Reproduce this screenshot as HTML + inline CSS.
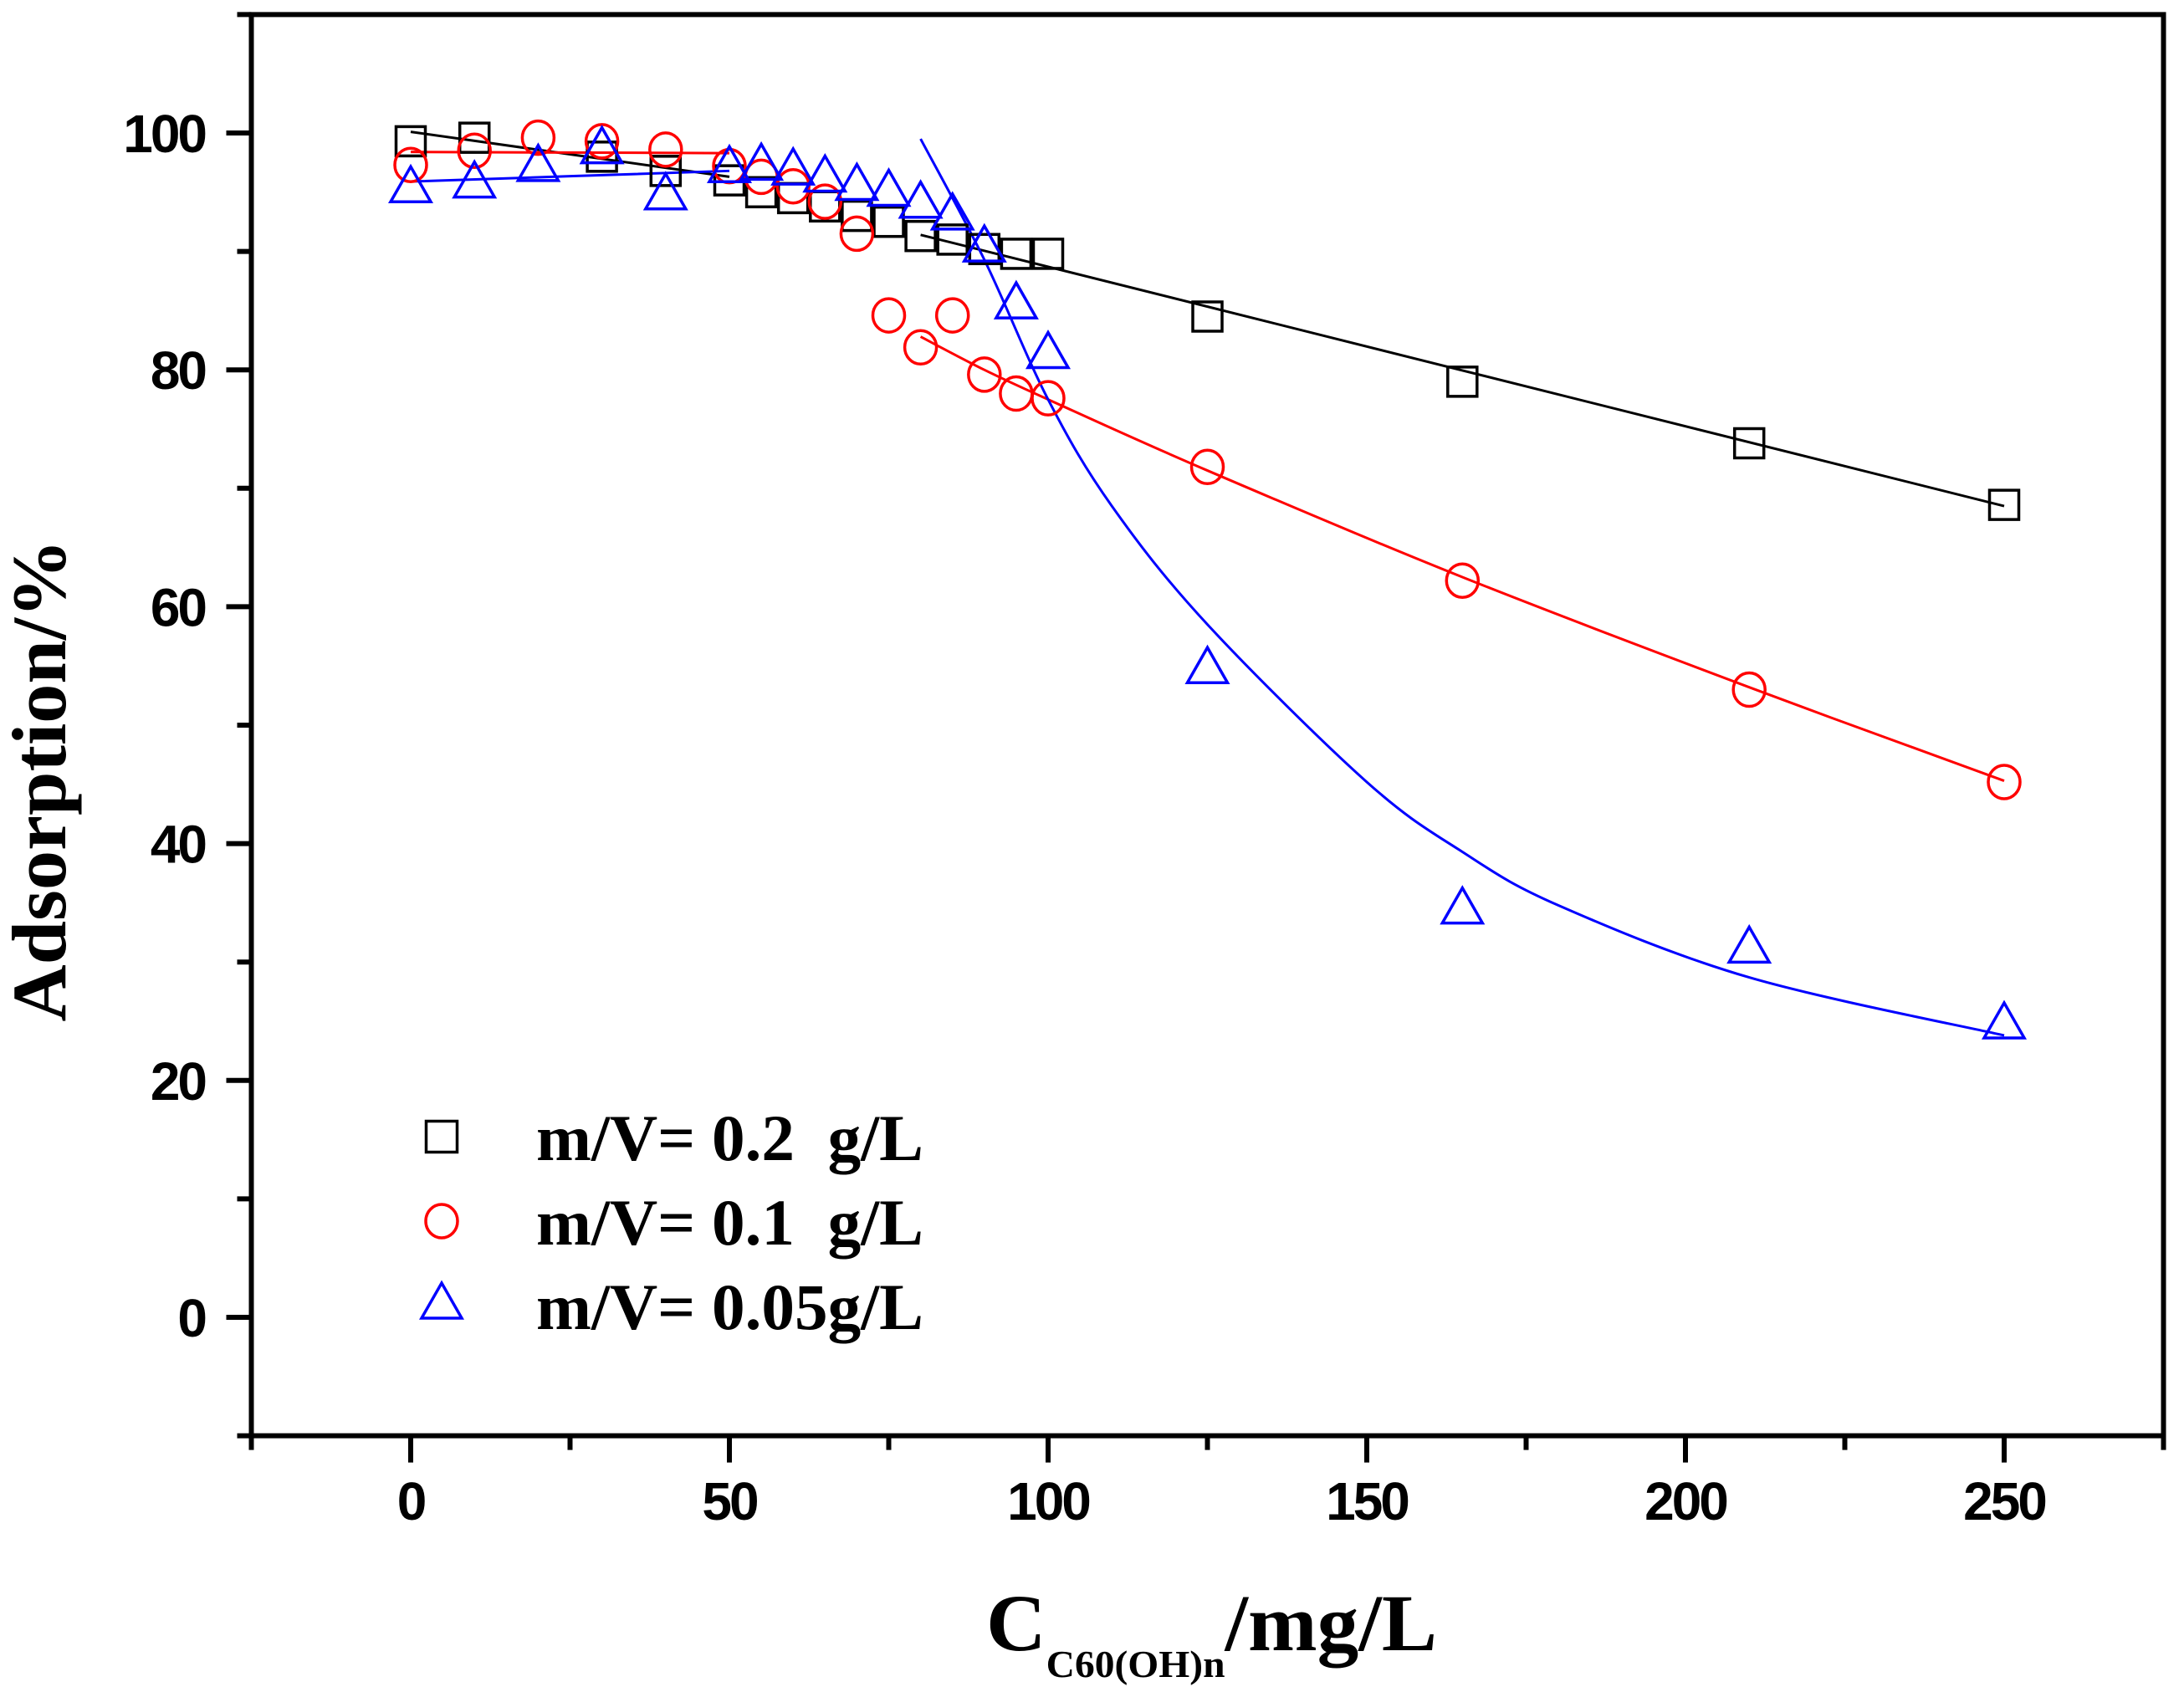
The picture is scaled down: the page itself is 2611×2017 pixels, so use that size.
<!DOCTYPE html>
<html><head><meta charset="utf-8"><style>
html,body{margin:0;padding:0;background:#fff;}
svg{display:block;}
.tick{font-family:"Liberation Sans",Arial,sans-serif;font-weight:bold;font-size:64px;letter-spacing:-3px;}
.tnr{font-family:"Liberation Serif","Times New Roman",serif;font-weight:bold;}
</style></head><body>
<svg id="chart" width="2611" height="2017" viewBox="0 0 2611 2017" xmlns="http://www.w3.org/2000/svg">
<rect width="2611" height="2017" fill="#fff"/>
<g id="marks"></g>
<g id="axes"></g>
<text class="tnr" font-size="92" transform="translate(78,933) rotate(-90)" text-anchor="middle" textLength="577" lengthAdjust="spacingAndGlyphs">Adsorption/%</text>
<text class="tnr" x="1179" y="1973" font-size="96" textLength="539" lengthAdjust="spacingAndGlyphs">C<tspan font-size="46" dy="32">C60(OH)n</tspan><tspan dy="-32">/mg/L</tspan></text>
<g id="legend"></g>
</svg>
<script>
const xTicks=[0,50,100,150,200,250];
const yTicks=[0,20,40,60,80,100];
const blackX=[0,10,30,40,50,55,60,65,70,75,80,85,90,95,100,125,165,210,250];
const blackY=[99.3,99.6,98,96.8,96,95,94.5,93.8,93,92.5,91.3,91,90.2,89.8,89.8,84.5,79,73.8,68.6];
const redX=[0,10,20,30,40,50,55,60,65,70,75,80,85,90,95,100,125,165,210,250];
const redY=[97.3,98.5,99.6,99.3,98.6,97.2,96.3,95.5,94.2,91.5,84.6,81.9,84.6,79.6,78,77.6,71.8,62.2,53,45.2];
const blueX=[0,10,20,30,40,50,55,60,65,70,75,80,85,90,95,100,125,165,210,250];
const blueY=[95.6,96,97.4,98.9,95,97.3,97.5,97.1,96.5,95.8,95.3,94.3,93.3,90.6,85.8,81.6,55,34.7,31.4,25];
const blackFit1X=[0,50], blackFit1Y=[100.1,96.3];
const blackFit2X=[80,250], blackFit2Y=[91.4,68.5];
const redFit1X=[0,50], redFit1Y=[98.4,98.3];
const redFit2X=[80,90,100,125,165,210,250], redFit2Y=[82.8,80,77.5,71.5,62.5,53.2,45.3];
const blueFit1X=[0,50], blueFit1Y=[95.9,96.8];
const blueFit2X=[80,90,100,110,125,150,165,180,210,250];
const blueFit2Y=[99.5,89.3,77.5,68.5,58.5,45.2,39.3,34.8,28.7,23.8];
const legendLabels=["m/V= 0.2  g/L","m/V= 0.1  g/L","m/V= 0.05g/L"];

const NS="http://www.w3.org/2000/svg";
const X=v=>491+v*7.62;
const Y=v=>1575-v*14.16;
function mk(tag,attrs,parent){const e=document.createElementNS(NS,tag);for(const k in attrs)e.setAttribute(k,attrs[k]);parent.appendChild(e);return e;}
const marks=document.getElementById('marks'),axes=document.getElementById('axes'),legend=document.getElementById('legend');

function fit(xs,ys,color,name){
  const P=xs.map((x,i)=>[X(x),Y(ys[i])]);
  let d='M'+P[0][0]+','+P[0][1];
  for(let i=0;i<P.length-1;i++){
    const p0=P[Math.max(i-1,0)],p1=P[i],p2=P[i+1],p3=P[Math.min(i+2,P.length-1)];
    const c1=[p1[0]+(p2[0]-p0[0])/6,p1[1]+(p2[1]-p0[1])/6];
    const c2=[p2[0]-(p3[0]-p1[0])/6,p2[1]-(p3[1]-p1[1])/6];
    d+=` C${c1[0]},${c1[1]} ${c2[0]},${c2[1]} ${p2[0]},${p2[1]}`;
  }
  const p=mk('path',{d:d,fill:'none',stroke:color,'stroke-width':3},marks);
  
  
}
function sq(cx,cy,s,parent){return mk('rect',{x:cx-s/2,y:cy-s/2,width:s,height:s,fill:'none',stroke:'#000','stroke-width':3.5},parent);}
function circ(cx,cy,parent){return mk('ellipse',{cx:cx,cy:cy,rx:19,ry:20,fill:'none',stroke:'#f00','stroke-width':3.5},parent);}
function tri(cx,cy,parent){return mk('polygon',{points:`${cx-24},${cy+20} ${cx+24},${cy+20} ${cx},${cy-22}`,fill:'none',stroke:'#00f','stroke-width':3.5},parent);}

fit(blackFit1X,blackFit1Y,'#000','fit-line-0.2-low');
fit(blackFit2X,blackFit2Y,'#000','fit-line-0.2-high');
fit(redFit1X,redFit1Y,'#f00','fit-line-0.1-low');
fit(redFit2X,redFit2Y,'#f00','fit-line-0.1-high');
fit(blueFit1X,blueFit1Y,'#00f','fit-line-0.05-low');
fit(blueFit2X,blueFit2Y,'#00f','fit-line-0.05-high');

blackX.forEach((x,i)=>{const e=sq(X(x),Y(blackY[i]),35,marks);

});
redX.forEach((x,i)=>{const e=circ(X(x),Y(redY[i]),marks);

});
blueX.forEach((x,i)=>{const e=tri(X(x),Y(blueY[i]),marks);

});

const fr=mk('rect',{x:X(-25),y:Y(110),width:X(275)-X(-25),height:Y(-10)-Y(110),fill:'none',stroke:'#000','stroke-width':6},axes);


for(let v=-25;v<=275;v+=25){
  const major=v%50===0;
  const t=mk('line',{x1:X(v),x2:X(v),y1:Y(-10),y2:Y(-10)+(major?32:17),stroke:'#000','stroke-width':6},axes);
  
  
}
xTicks.forEach(v=>{const t=mk('text',{x:X(v),y:1817,'text-anchor':'middle',class:'tick'},axes);t.textContent=v;

});
for(let v=-10;v<=110;v+=10){
  const major=v%20===0;
  const t=mk('line',{x1:X(-25),x2:X(-25)-(major?30:17),y1:Y(v),y2:Y(v),stroke:'#000','stroke-width':6},axes);
  
  
}
yTicks.forEach(v=>{const t=mk('text',{x:245,y:Y(v)+23,'text-anchor':'end',class:'tick'},axes);t.textContent=v;

});
const ly=[1359,1460,1556], lb=[1387,1488,1589];
legendLabels.forEach((lab,i)=>{
  let s;
  if(i===0){s=sq(528,ly[i],37,legend);} else if(i===1){s=circ(528,ly[i],legend);} else {s=tri(528,ly[i],legend);}
  
  
  const t=mk('text',{x:641,y:lb[i],class:'tnr','font-size':78,textLength:463,lengthAdjust:'spacingAndGlyphs'},legend);
  t.style.whiteSpace='pre';
  t.textContent=lab;
  
  
});
</script>
</body></html>
